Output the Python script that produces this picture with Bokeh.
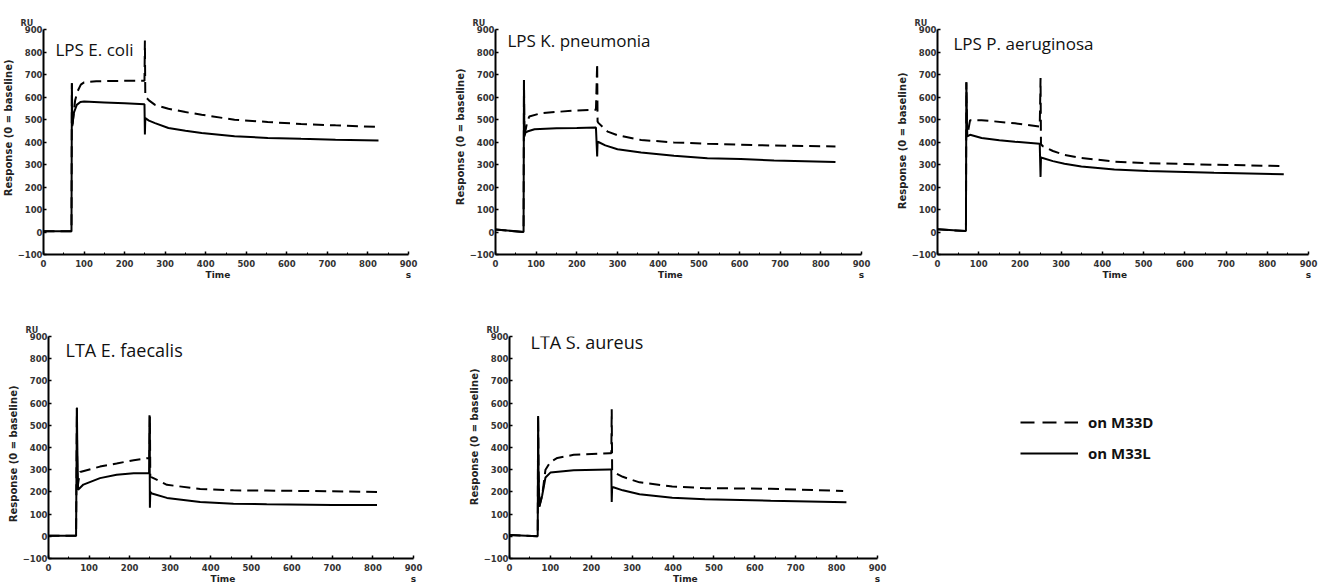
from bokeh.plotting import figure
from bokeh.layouts import row, column
from bokeh.models import Range1d, FixedTicker, Label, Legend, LegendItem, LinearAxis, Title
from bokeh.embed import file_html
from bokeh.resources import INLINE

# ---------------- data (time in s, response in RU) ----------------
titles = ["LPS E. coli", "LPS K. pneumonia", "LPS P. aeruginosa", "LTA E. faecalis", "LTA S. aureus"]
x_ticks = [0, 100, 200, 300, 400, 500, 600, 700, 800, 900]
x_minor = [50, 150, 250, 350, 450, 550, 650, 750, 850]
y_ticks = [-100, 0, 100, 200, 300, 400, 500, 600, 700, 800, 900]
series_names = ["on M33D", "on M33L"]

ecoli_t_L = [0, 69, 70, 71, 75, 82, 91, 100, 150, 200, 249, 250, 251, 260, 275, 308, 350, 390, 471, 553, 635, 720, 826]
ecoli_L = [3, 3, 661, 470, 530, 565, 578, 580, 576, 572, 568, 433, 506, 495, 484, 462, 450, 440, 426, 418, 414, 410, 407]
ecoli_t_D = [0, 69, 70, 71, 74, 78, 84, 92, 100, 130, 200, 249, 250, 251, 260, 275, 308, 350, 390, 471, 553, 635, 720, 826]
ecoli_D = [3, 3, 661, 470, 520, 585, 625, 655, 665, 670, 672, 672, 851, 602, 585, 565, 548, 533, 521, 499, 489, 480, 474, 467]

kpn_t_L = [0, 69, 70, 71, 73, 80, 96, 150, 200, 247, 250, 251, 253, 270, 300, 358, 439, 521, 603, 685, 836]
kpn_L = [11, 0, 675, 424, 440, 448, 457, 461, 462, 464, 336, 402, 400, 385, 368, 353, 339, 328, 324, 318, 311]
kpn_t_D = [0, 69, 70, 71, 78, 83, 112, 194, 247, 250, 251, 253, 276, 300, 358, 439, 521, 685, 836]
kpn_D = [11, 0, 675, 424, 490, 513, 528, 540, 543, 749, 491, 485, 446, 430, 409, 398, 392, 384, 380]

pae_t_L = [0, 68, 69, 70, 72, 79, 107, 150, 188, 248, 250, 251, 253, 280, 308, 349, 429, 510, 671, 840]
pae_L = [12, 4, 4, 665, 425, 432, 418, 408, 401, 392, 245, 332, 330, 315, 303, 291, 278, 271, 263, 257]
pae_t_D = [0, 68, 69, 70, 72, 79, 107, 188, 248, 250, 251, 255, 280, 308, 349, 429, 510, 671, 840]
pae_D = [12, 4, 4, 665, 425, 497, 497, 483, 468, 684, 390, 382, 360, 343, 329, 313, 306, 299, 293]

efa_t_L = [0, 68, 70, 71, 73, 86, 127, 168, 210, 248, 249, 250, 251, 255, 292, 374, 456, 538, 700, 810]
efa_L = [3, 3, 579, 400, 210, 233, 262, 277, 284, 284, 545, 129, 200, 193, 173, 154, 147, 144, 141, 141]
efa_t_D = [0, 68, 70, 71, 74, 78, 127, 168, 210, 248, 249, 250, 251, 292, 374, 456, 538, 700, 810]
efa_D = [3, 3, 579, 210, 250, 290, 314, 328, 343, 353, 353, 540, 269, 232, 213, 207, 206, 203, 200]

sau_t_L = [0, 69, 70, 71, 73, 80, 88, 100, 157, 245, 249, 250, 251, 254, 277, 318, 398, 478, 639, 824]
sau_L = [6, 0, 542, 300, 134, 185, 265, 287, 297, 301, 301, 155, 221, 221, 207, 189, 174, 167, 160, 153]
sau_t_D = [0, 69, 70, 71, 73, 80, 88, 100, 117, 157, 245, 249, 250, 251, 254, 277, 318, 398, 478, 639, 816]
sau_D = [6, 0, 542, 300, 134, 185, 300, 335, 353, 367, 374, 374, 572, 300, 290, 268, 243, 224, 217, 214, 204]

curves = [
    (ecoli_t_D, ecoli_D, ecoli_t_L, ecoli_L),
    (kpn_t_D, kpn_D, kpn_t_L, kpn_L),
    (pae_t_D, pae_D, pae_t_L, pae_L),
    (efa_t_D, efa_D, efa_t_L, efa_L),
    (sau_t_D, sau_D, sau_t_L, sau_L),
]

# ---------------- layout / styling ----------------
# (width, height, border_left, border_right, border_top, frame_h, title_dx, title_dy, title_size, ylabel_top_gap)
geom = [
    (452, 300, 41, 44, 27, 227, 12, -20, "17px", 30),
    (442, 300, 42, 33, 29, 226, 12, -11, "17px", 39),
    (429, 300, 42, 15, 25, 232, 16, -14, "17px", 43),
    (466, 286, 48, 53, 36, 226, 17, -13, "18px", 49),
    (434, 286, 42, 23, 33, 229, 21, -5, "18px", 32),
]

AX_FONT = "DejaVu Sans"
DASH = "11 6"
TXT = "#333333"


def make_panel(i):
    w, h, bl, br, bt, fh, tdx, tdy, tsize, ygap = geom[i]
    bb = h - bt - fh
    p = figure(width=w, height=h, x_range=Range1d(0, 900), y_range=Range1d(-100, 900),
               output_backend="svg", toolbar_location=None,
               min_border_left=bl, min_border_right=br, min_border_top=bt, min_border_bottom=bb,
               background_fill_color="white", border_fill_color="white")
    p.grid.visible = False
    p.outline_line_color = None
    tD, vD, tL, vL = curves[i]
    p.line(tD, vD, line_color="black", line_width=2, line_dash=DASH)
    p.line(tL, vL, line_color="black", line_width=2)

    xa = p.xaxis[0]
    xa.ticker = FixedTicker(ticks=x_ticks, minor_ticks=x_minor)
    ya = p.yaxis[0]
    ya.ticker = FixedTicker(ticks=y_ticks, minor_ticks=[])
    for ax in (xa, ya):
        ax.axis_line_color = "black"
        ax.axis_line_width = 2
        ax.major_tick_line_color = "black"
        ax.major_tick_line_width = 1.5
        ax.major_tick_in = 3
        ax.major_tick_out = 0
        ax.minor_tick_line_color = "black"
        ax.minor_tick_in = 2
        ax.minor_tick_out = 0
        ax.major_label_text_font = AX_FONT
        ax.major_label_text_font_size = "8.5px"
        ax.major_label_text_font_style = "bold"
        ax.major_label_text_color = TXT
    xa.major_label_standoff = 5
    ya.major_label_standoff = 1

    # y-axis title, its upper end placed as in the original
    p.add_layout(Title(text="Response (0 = baseline)", align="right", offset=ygap, standoff=1,
                       text_font=AX_FONT, text_font_size="10px", text_font_style="bold",
                       text_color="#222222"), "left")

    # second row under the x axis: "Time" and the unit "s"
    xa2 = LinearAxis(ticker=FixedTicker(ticks=[430, 900], minor_ticks=[]),
                     major_label_overrides={430: "Time", 900: "s"},
                     axis_line_color=None, major_tick_line_color=None, minor_tick_line_color=None,
                     major_tick_in=0, major_tick_out=0, major_label_standoff=0,
                     major_label_text_font=AX_FONT, major_label_text_font_size="9px",
                     major_label_text_font_style="bold", major_label_text_color="#222222")
    p.add_layout(xa2, "below")

    p.add_layout(Title(text="RU", align="left", offset=-23, standoff=4,
                       text_font=AX_FONT, text_font_size="8px", text_font_style="bold",
                       text_color=TXT), "above")

    p.add_layout(Label(x=0, y=900, x_offset=tdx, y_offset=tdy, text=titles[i],
                       text_font="Open Sans", text_font_size=tsize,
                       text_color="#111111", text_baseline="alphabetic"))
    return p


panels = [make_panel(i) for i in range(5)]

# legend panel (its two sample lines are placed outside the visible ranges; only the key shows)
pl = figure(width=423, height=286, output_backend="svg", toolbar_location=None,
            x_range=Range1d(-3, -2), y_range=Range1d(-3, -2),
            x_axis_location=None, y_axis_location=None, min_border=0)
pl.grid.visible = False
pl.outline_line_color = None
rD = pl.line(sau_t_D, sau_D, line_color="black", line_width=2, line_dash="14 8")
rL = pl.line(sau_t_L, sau_L, line_color="black", line_width=2)
legend = Legend(items=[LegendItem(label=series_names[0], renderers=[rD]),
                       LegendItem(label=series_names[1], renderers=[rL])],
                location=(120, 95), margin=0, padding=0, spacing=11,
                glyph_width=58, glyph_height=20, label_height=20, label_standoff=10,
                label_text_font="Open Sans", label_text_font_size="15px",
                label_text_font_style="bold", label_text_color="#111111",
                border_line_color=None, background_fill_alpha=0)
pl.add_layout(legend)

layout = column(row(panels[0], panels[1], panels[2]),
                row(panels[3], panels[4], pl))

open("out.html", "w").write(file_html(layout, INLINE))
